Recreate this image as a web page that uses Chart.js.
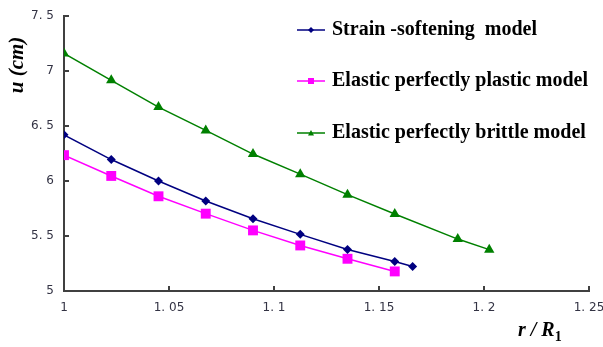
<!DOCTYPE html>
<html>
<head>
<meta charset="utf-8">
<script src="https://cdn.jsdelivr.net/npm/chart.js@4.4.1/dist/chart.umd.min.js"></script>
<style>
  html, body { margin: 0; padding: 0; background: #fff; }
  #wrap { width: 603px; height: 347px; position: relative; }
</style>
</head>
<body>
<div id="wrap"><canvas id="dispChart"></canvas></div>
<script>
// r / R1 positions
const rStrain  = [1, 1.0225, 1.045, 1.0675, 1.09, 1.1125, 1.135, 1.1575, 1.166];
const rPlastic = [1, 1.0225, 1.045, 1.0675, 1.09, 1.1125, 1.135, 1.1575];
const rBrittle = [1, 1.0225, 1.045, 1.0675, 1.09, 1.1125, 1.135, 1.1575, 1.1875, 1.2025];

// displacement u (cm)
const uStrain  = [6.42, 6.195, 6.00, 5.818, 5.657, 5.515, 5.378, 5.269, 5.222];
const uPlastic = [6.235, 6.046, 5.861, 5.703, 5.551, 5.414, 5.293, 5.178];
const uBrittle = [7.16, 6.915, 6.672, 6.46, 6.245, 6.062, 5.876, 5.70, 5.472, 5.376];

const seriesNames = ['Strain -softening  model', 'Elastic perfectly plastic model', 'Elastic perfectly brittle model'];

const xTickLabels = ['1', '1. 05', '1. 1', '1. 15', '1. 2', '1. 25'];
const yTickLabels = ['5', '5. 5', '6', '6. 5', '7', '7. 5'];

const toPts = (xs, ys) => xs.map((x, i) => ({ x: x, y: ys[i] }));

function drawMarker(ctx, style, x, y, r, color) {
  ctx.save();
  ctx.fillStyle = color;
  ctx.beginPath();
  if (style === 'rectRot') {
    ctx.moveTo(x, y - r); ctx.lineTo(x + r, y); ctx.lineTo(x, y + r); ctx.lineTo(x - r, y);
  } else if (style === 'rect') {
    ctx.rect(x - r, y - r, 2 * r, 2 * r);
  } else {
    ctx.moveTo(x, y - r); ctx.lineTo(x + r, y + r * 0.8); ctx.lineTo(x - r, y + r * 0.8);
  }
  ctx.closePath();
  ctx.fill();
  ctx.restore();
}

// inward tick marks, custom legend and axis titles
const decorPlugin = {
  id: 'decor',
  afterDraw(chart) {
    const ctx = chart.ctx;
    const xs = chart.scales.x, ys = chart.scales.y;
    const area = chart.chartArea;
    ctx.save();
    ctx.strokeStyle = '#404040';
    ctx.lineWidth = 2;
    xs.ticks.forEach(t => {
      const px = Math.round(xs.getPixelForValue(t.value));
      if (px <= area.left + 2) return;
      ctx.beginPath(); ctx.moveTo(px, area.bottom); ctx.lineTo(px, area.bottom - 5); ctx.stroke();
    });
    ys.ticks.forEach(t => {
      const py = Math.round(ys.getPixelForValue(t.value));
      if (py >= area.bottom - 2) return;
      ctx.beginPath(); ctx.moveTo(area.left, py); ctx.lineTo(area.left + 5, py); ctx.stroke();
    });

    // legend
    const items = [
      { style: 'rectRot', color: '#000080', y: 30 },
      { style: 'rect', color: '#FF00FF', y: 81 },
      { style: 'triangle', color: '#008000', y: 133 }
    ];
    items.forEach((it, i) => {
      ctx.strokeStyle = it.color;
      ctx.lineWidth = 1.5;
      ctx.beginPath(); ctx.moveTo(297, it.y); ctx.lineTo(325, it.y); ctx.stroke();
      drawMarker(ctx, it.style, 311, it.y, 3, it.color);
      ctx.fillStyle = '#000';
      ctx.font = 'bold 20px "Liberation Serif"';
      ctx.textBaseline = 'middle';
      ctx.textAlign = 'left';
      ctx.fillText(seriesNames[i], 332, it.y);
    });

    // y title
    ctx.fillStyle = '#000';
    ctx.font = 'italic bold 21px "Liberation Serif"';
    ctx.save();
    ctx.translate(18, 65);
    ctx.rotate(-Math.PI / 2);
    ctx.textAlign = 'center';
    ctx.textBaseline = 'middle';
    ctx.fillText('u (cm)', 0, 0);
    ctx.restore();

    // x title
    ctx.textAlign = 'left';
    ctx.textBaseline = 'alphabetic';
    ctx.font = 'italic bold 20px "Liberation Serif"';
    ctx.fillText('r / R', 518, 336);
    const w = ctx.measureText('r / R').width;
    ctx.font = 'bold 14px "Liberation Serif"';
    ctx.fillText('1', 518 + w, 341);
    ctx.restore();
  }
};

document.addEventListener('DOMContentLoaded', function() {
  const ctx = document.getElementById('dispChart');
  new Chart(ctx, {
    type: 'line',
    data: {
      datasets: [{
        label: seriesNames[0],
        data: toPts(rStrain, uStrain),
        borderColor: '#000080',
        backgroundColor: '#000080',
        borderWidth: 1.5,
        pointStyle: 'rectRot',
        pointRadius: 4.5,
        pointBorderWidth: 0
      }, {
        label: seriesNames[1],
        data: toPts(rPlastic, uPlastic),
        borderColor: '#FF00FF',
        backgroundColor: '#FF00FF',
        borderWidth: 1.5,
        pointStyle: 'rect',
        pointRadius: 7,
        pointBorderWidth: 0
      }, {
        label: seriesNames[2],
        data: toPts(rBrittle, uBrittle),
        borderColor: '#008000',
        backgroundColor: '#008000',
        borderWidth: 1.5,
        pointStyle: 'triangle',
        pointRadius: 6,
        pointBorderWidth: 0
      }]
    },
    options: {
      responsive: true,
      maintainAspectRatio: false,
      animation: false,
      layout: { padding: { left: 0, right: 14, top: 16, bottom: 0 } },
      plugins: { legend: { display: false }, tooltip: { enabled: false } },
      elements: { line: { tension: 0 } },
      scales: {
        x: {
          type: 'linear',
          min: 1,
          max: 1.25,
          afterFit: s => { s.height = 56; s.paddingLeft = 0; s.paddingRight = 0; },
          grid: { drawOnChartArea: false, drawTicks: false },
          border: { display: true, color: '#404040', width: 2 },
          ticks: {
            stepSize: 0.05,
            padding: 10,
            color: '#333344',
            font: { family: 'DejaVu Sans', size: 12 },
            maxRotation: 0,
            callback: v => xTickLabels[Math.round((v - 1) / 0.05)]
          }
        },
        y: {
          min: 5,
          max: 7.5,
          afterFit: s => { s.width = 64; s.paddingTop = 0; s.paddingBottom = 0; },
          grid: { drawOnChartArea: false, drawTicks: false },
          border: { display: true, color: '#404040', width: 2 },
          ticks: {
            stepSize: 0.5,
            padding: 10,
            color: '#333344',
            font: { family: 'DejaVu Sans', size: 12 },
            callback: v => yTickLabels[Math.round((v - 5) / 0.5)]
          }
        }
      }
    },
    plugins: [decorPlugin]
  });
});
</script>
</body>
</html>
